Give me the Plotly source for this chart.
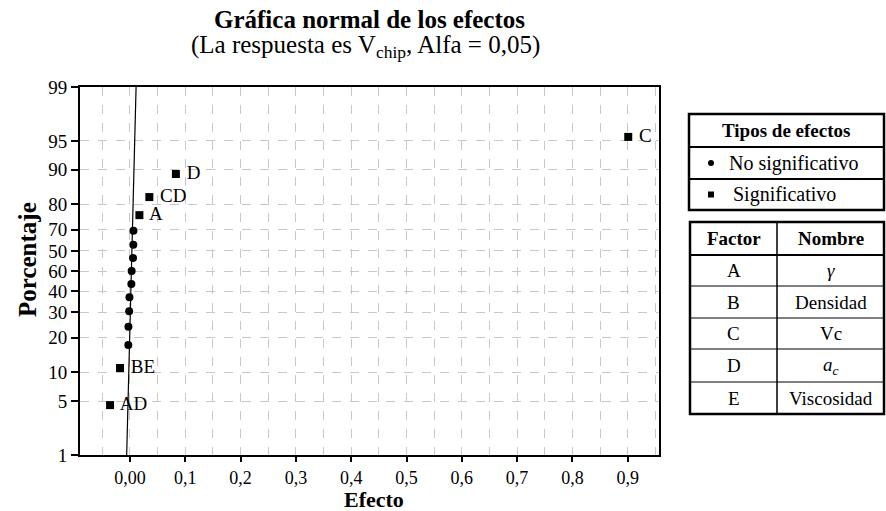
import statistics
import plotly.graph_objects as go

# ---------------- data ----------------
effect_labels = ["AD", "BE", "", "", "", "", "", "", "", "", "", "A", "CD", "D", "C"]
effect_values = [-0.036, -0.018, -0.003, -0.0028, -0.0015, -0.001, 0.0025, 0.003,
                 0.0055, 0.006, 0.0062, 0.017, 0.035, 0.083, 0.901]
effect_percent = [4.5, 11.0, 17.5, 24.0, 30.5, 37.0, 43.5, 50.0, 56.5, 63.0, 69.5,
                  76.0, 82.5, 89.0, 95.5]
significant = [True, True, False, False, False, False, False, False, False, False, False,
               True, True, True, True]

ref_line_percent = [1, 99]
ref_line_effect = [-0.006, 0.011]

y_tick_percent = [1, 5, 10, 20, 30, 40, 50, 60, 70, 80, 90, 95, 99]
y_tick_text = ["1", "5", "10", "20", "30", "40", "60", "50", "70", "80", "90", "95", "99"]
x_tick_vals = [0.0, 0.1, 0.2, 0.3, 0.4, 0.5, 0.6, 0.7, 0.8, 0.9]
x_tick_text = ["0,00", "0,1", "0,2", "0,3", "0,4", "0,5", "0,6", "0,7", "0,8", "0,9"]
x_minor_vals = [-0.05, 0.05, 0.15, 0.25, 0.35, 0.45, 0.55, 0.65, 0.75, 0.85, 0.95]

legend_title = "Tipos de efectos"
legend_items = ["No significativo", "Significativo"]
table_header = ["Factor", "Nombre"]
table_factors = ["A", "B", "C", "D", "E"]
table_names = ["<i>γ</i>", "Densidad", "Vc", "<i>a<sub>c</sub></i>", "Viscosidad"]

# ---------------- helpers ----------------
nd = statistics.NormalDist()


def z(p):
    return nd.inv_cdf(p / 100.0)


W, H = 886, 511
L, R, T, B = 80, 659, 87, 455  # plot area in pixels


def PX(x):
    return (x - L) / (R - L)


def PY(y):
    return (B - y) / (B - T)


FONT = "Liberation Serif"

fig = go.Figure()

# reference line
fig.add_trace(go.Scatter(
    x=ref_line_effect, y=[z(p) for p in ref_line_percent], mode="lines",
    line=dict(color="black", width=1.2), hoverinfo="skip", showlegend=False))

# non-significant
ns_x = [v for v, s in zip(effect_values, significant) if not s]
ns_y = [z(p) for p, s in zip(effect_percent, significant) if not s]
fig.add_trace(go.Scatter(
    x=ns_x, y=ns_y, mode="markers",
    marker=dict(symbol="circle", size=8, color="black"), showlegend=False))

# significant
s_x = [v for v, s in zip(effect_values, significant) if s]
s_y = [z(p) for p, s in zip(effect_percent, significant) if s]
s_t = [" " + t for t, s in zip(effect_labels, significant) if s]
fig.add_trace(go.Scatter(
    x=s_x, y=s_y, mode="markers+text", text=s_t, textposition="middle right",
    textfont=dict(family=FONT, size=19, color="black"),
    marker=dict(symbol="square", size=8, color="black"), showlegend=False))

grid = dict(showgrid=True, gridcolor="#c8c8c8", griddash="dash", gridwidth=1)

fig.update_xaxes(
    range=[-0.0904, 0.9566], tickmode="array", tickvals=x_tick_vals, ticktext=x_tick_text,
    showline=True, linecolor="black", linewidth=2, mirror=True,
    ticks="outside", ticklen=5, tickwidth=1.5, tickcolor="black",
    tickfont=dict(family=FONT, size=18, color="black"), zeroline=False,
    minor=dict(tickmode="array", tickvals=x_minor_vals, showgrid=True,
               gridcolor="#c8c8c8", griddash="dash", gridwidth=1, ticklen=0),
    **grid)

fig.update_yaxes(
    range=[z(1), z(99)], tickmode="array", tickvals=[z(p) for p in y_tick_percent],
    ticktext=y_tick_text,
    showline=True, linecolor="black", linewidth=2, mirror=True,
    ticks="outside", ticklen=7, tickwidth=1.5, tickcolor="black",
    tickfont=dict(family=FONT, size=19, color="black"), zeroline=False,
    **grid)

annotations = []
# titles
annotations.append(dict(x=PX(369), y=PY(20), xref="paper", yref="paper",
                        text="<b>Gráfica normal de los efectos</b>", showarrow=False,
                        font=dict(family=FONT, size=25, color="black"),
                        xanchor="center", yanchor="middle"))
annotations.append(dict(x=PX(365), y=PY(47), xref="paper", yref="paper",
                        text="(La respuesta es V<sub>chip</sub>, Alfa = 0,05)", showarrow=False,
                        font=dict(family=FONT, size=25, color="black"),
                        xanchor="center", yanchor="middle"))
annotations.append(dict(x=PX(374), y=PY(499), xref="paper", yref="paper",
                        text="<b>Efecto</b>", showarrow=False,
                        font=dict(family=FONT, size=22, color="black"),
                        xanchor="center", yanchor="middle"))
annotations.append(dict(x=PX(27), y=PY(260), xref="paper", yref="paper",
                        text="<b>Porcentaje</b>", showarrow=False, textangle=-90,
                        font=dict(family=FONT, size=25, color="black"),
                        xanchor="center", yanchor="middle"))

shapes = []


def rect(x0, y0, x1, y1, w):
    shapes.append(dict(type="rect", xref="paper", yref="paper",
                       x0=PX(x0), x1=PX(x1), y0=PY(y0), y1=PY(y1),
                       line=dict(color="black", width=w)))


def hline(x0, x1, y, w):
    shapes.append(dict(type="line", xref="paper", yref="paper",
                       x0=PX(x0), x1=PX(x1), y0=PY(y), y1=PY(y),
                       line=dict(color="black", width=w)))


def vline(x, y0, y1, w):
    shapes.append(dict(type="line", xref="paper", yref="paper",
                       x0=PX(x), x1=PX(x), y0=PY(y0), y1=PY(y1),
                       line=dict(color="black", width=w)))


# legend box
lx0, lx1 = 689, 884
ly = [114, 147, 179, 210]
rect(lx0, ly[0], lx1, ly[-1], 2.5)
for yy in ly[1:-1]:
    hline(lx0, lx1, yy, 2)
annotations.append(dict(x=PX((lx0 + lx1) / 2), y=PY((ly[0] + ly[1]) / 2), xref="paper", yref="paper",
                        text="<b>" + legend_title + "</b>", showarrow=False,
                        font=dict(family=FONT, size=19, color="black"),
                        xanchor="center", yanchor="middle"))
for i, item in enumerate(legend_items):
    cy = (ly[i + 1] + ly[i + 2]) / 2
    annotations.append(dict(x=PX(727 if i == 0 else 731), y=PY(cy), xref="paper", yref="paper",
                            text=item, showarrow=False,
                            font=dict(family=FONT, size=20, color="black"),
                            xanchor="left", yanchor="middle"))
    if i == 0:
        shapes.append(dict(type="circle", xref="paper", yref="paper",
                           x0=PX(708), x1=PX(714), y0=PY(cy - 3), y1=PY(cy + 3),
                           fillcolor="black", line=dict(color="black", width=0)))
    else:
        shapes.append(dict(type="rect", xref="paper", yref="paper",
                           x0=PX(708), x1=PX(714), y0=PY(cy - 3), y1=PY(cy + 3),
                           fillcolor="black", line=dict(color="black", width=0)))

# factor table
tx0, tdiv, tx1 = 690, 777, 884
ty = [222, 255, 286, 318, 349, 382, 414]
rect(tx0, ty[0], tx1, ty[-1], 2.5)
hline(tx0, tx1, ty[1], 2)
for yy in ty[2:-1]:
    hline(tx0, tx1, yy, 1.2)
vline(tdiv, ty[0], ty[-1], 1.5)
annotations.append(dict(x=PX((tx0 + tdiv) / 2), y=PY((ty[0] + ty[1]) / 2), xref="paper", yref="paper",
                        text="<b>" + table_header[0] + "</b>", showarrow=False,
                        font=dict(family=FONT, size=19, color="black"),
                        xanchor="center", yanchor="middle"))
annotations.append(dict(x=PX((tdiv + tx1) / 2), y=PY((ty[0] + ty[1]) / 2), xref="paper", yref="paper",
                        text="<b>" + table_header[1] + "</b>", showarrow=False,
                        font=dict(family=FONT, size=19, color="black"),
                        xanchor="center", yanchor="middle"))
for i, (f, n) in enumerate(zip(table_factors, table_names)):
    cy = (ty[i + 1] + ty[i + 2]) / 2
    annotations.append(dict(x=PX((tx0 + tdiv) / 2), y=PY(cy), xref="paper", yref="paper",
                            text=f, showarrow=False,
                            font=dict(family=FONT, size=19, color="black"),
                            xanchor="center", yanchor="middle"))
    annotations.append(dict(x=PX((tdiv + tx1) / 2), y=PY(cy), xref="paper", yref="paper",
                            text=n, showarrow=False,
                            font=dict(family=FONT, size=19, color="black"),
                            xanchor="center", yanchor="middle"))

fig.update_layout(
    width=W, height=H, margin=dict(l=L, r=W - R, t=T, b=H - B, pad=0),
    plot_bgcolor="white", paper_bgcolor="white",
    annotations=annotations, shapes=shapes, showlegend=False,
    font=dict(family=FONT, color="black"))

fig.write_html("out.html")
